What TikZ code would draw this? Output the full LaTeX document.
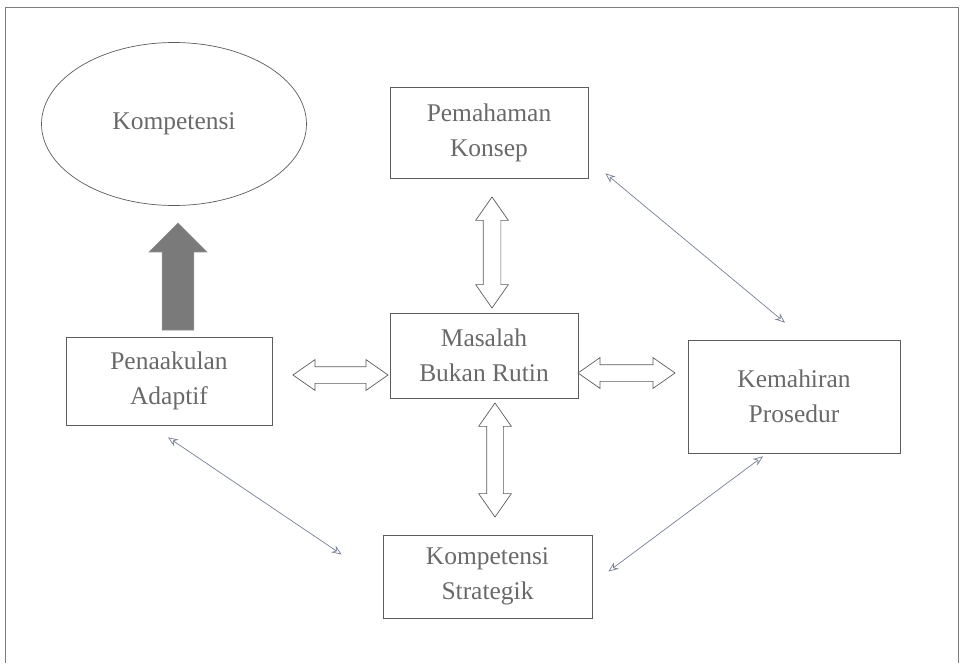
\documentclass[tikz,border=0pt]{standalone}
\usepackage{fontspec}
\setmainfont{Liberation Serif}
\usepackage{tikz}
\usetikzlibrary{positioning}
\usetikzlibrary{shapes.geometric}
\usetikzlibrary{shapes.arrows}
\usetikzlibrary{arrows.meta}
\definecolor{boxGray}{RGB}{92,92,92}
\definecolor{textGray}{RGB}{105,105,105}
\definecolor{lineBlue}{RGB}{118,128,146}

\begin{document}
\begin{tikzpicture}[x=0.02cm, y=-0.02cm,
  box/.style={draw=boxGray, thin, align=center, text=textGray, inner sep=0pt,
    font=\fontsize{14.5}{20}\selectfont},
  dblArrow/.style={double arrow, draw=boxGray, thin, fill=white, inner xsep=0pt,
    inner ysep=0.17cm, double arrow head extend=0.15cm, double arrow tip angle=70},
  thinArrow/.style={lineBlue, thin, {Stealth[length=0.2cm, width=0.16cm, open]}-{Stealth[length=0.2cm, width=0.16cm, open]}}
]

\useasboundingbox (0,0) rectangle (963,663);

% frame
\draw[boxGray!80, thin] (5,663)--(5,7)--(958,7)--(958,663);

% boxes
\node[box, ellipse, minimum width=5.3cm, minimum height=3.26cm] (kompetensi) at (174,124) {Kompetensi};
\node[box, minimum width=3.96cm, minimum height=1.82cm] (konsep) at (489,132.5) {Pemahaman\\Konsep};
\node[box, minimum width=3.76cm, minimum height=1.7cm] (masalah) at (484,355.5) {Masalah\\Bukan Rutin};
\node[box, minimum width=4.12cm, minimum height=1.76cm] (adaptif) at (169,381) {Penaakulan\\Adaptif};
\node[box, minimum width=4.24cm, minimum height=2.26cm] (kemahiran) at (794,396.5) {Kemahiran\\Prosedur};
\node[box, minimum width=4.18cm, minimum height=1.66cm] (strategik) at (487.5,576.5) {Kompetensi\\Strategik};

% block arrows
\node[single arrow, fill=black!52, draw=black!45, inner xsep=0pt, inner ysep=0.31cm, rotate=90,
  minimum height=2.14cm, single arrow head extend=0.26cm] (naik) at (178,284.5) {};

\node[dblArrow, rotate=90, minimum height=2.22cm] (atas) at (492,252.5) {};
\node[dblArrow, rotate=90, minimum height=2.28cm, inner ysep=0.16cm, double arrow head extend=0.16cm] (bawah) at (495,460) {};
\node[dblArrow, minimum height=1.9cm, inner ysep=0.16cm, double arrow head extend=0.14cm] (kiri) at (340.5,375) {};
\node[dblArrow, minimum height=1.94cm, inner ysep=0.16cm, double arrow head extend=0.14cm] (kanan) at (626.5,373) {};

% thin arrows
\coordinate (k1) at ([shift={(17,-5)}]konsep.south east);
\coordinate (k2) at ([shift={(-9,-17)}]kemahiran.north);
\coordinate (a1) at ([shift={(-1,12)}]adaptif.south);
\coordinate (a2) at ([shift={(-41,-22)}]strategik.west);
\coordinate (p1) at ([shift={(-31,3)}]kemahiran.south);
\coordinate (p2) at ([shift={(16,-5)}]strategik.east);

\draw[thinArrow] (k1)--(k2);
\draw[thinArrow] (a1)--(a2);
\draw[thinArrow] (p1)--(p2);

\end{tikzpicture}
\end{document}
